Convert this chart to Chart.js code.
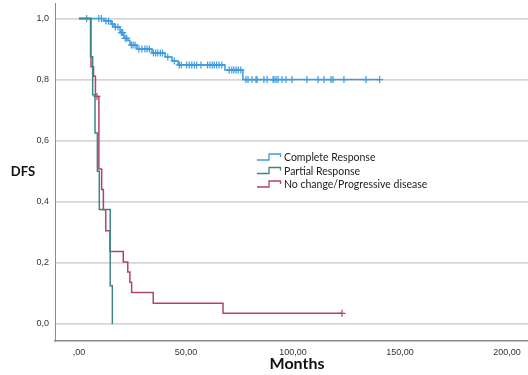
<!DOCTYPE html>
<html>
<head>
<meta charset="utf-8">
<script src="https://cdn.jsdelivr.net/npm/chart.js@4.4.1/dist/chart.umd.min.js"></script>
<style>
  html, body { margin: 0; padding: 0; background: #fff; }
  #wrap { width: 528px; height: 375px; }
</style>
</head>
<body>
<div id="wrap"><canvas id="kmChart" width="528" height="375"></canvas></div>
<script>
// Kaplan-Meier steps: event month -> DFS right after it
const completeTimes = [0, 11.7, 15.0, 16.4, 19.2, 21.0, 22.9, 23.8, 27.1, 34.1, 40.2, 43.5, 46.3, 68.2, 76.6, 140.5];
const completeSurv = [1, 0.992, 0.982, 0.972, 0.954, 0.935, 0.928, 0.913, 0.900, 0.887, 0.874, 0.861, 0.848, 0.831, 0.800, 0.800];
const completeCensored = [
  3.6, 9.3, 10.5, 12.6, 13.8, 15.6, 17.0, 18.2, 19.8, 20.4, 21.6, 22.3,
  24.5, 25.3, 26.2, 28.0, 29.4, 30.8, 31.8, 32.9, 34.8, 35.8, 36.8, 38.0, 39.0,
  41.5, 44.5, 46.9, 47.8, 50.3, 51.5, 52.7, 53.9, 55.0, 57.0, 60.1, 61.2, 62.3,
  63.2, 64.3, 65.4, 66.7, 70.2, 71.4, 72.4, 73.4, 74.4, 75.6,
  78.0, 79.0, 80.8, 82.7, 83.2, 86.4, 87.9, 90.7, 91.1, 92.1, 93.0, 94.9,
  96.7, 99.5, 106.5, 111.7, 114.5, 117.8, 118.7, 123.8, 134.1, 140.5
];

const partialTimes = [0, 5.4, 6.4, 7.5, 8.6, 9.5, 14.6, 15.6];
const partialSurv = [1, 0.875, 0.75, 0.625, 0.5, 0.375, 0.125, 0];
const partialCensored = [];

const progTimes = [0, 5.6, 6.8, 7.7, 9.3, 10.6, 11.4, 12.5, 14.5, 20.7, 22.8, 23.8, 24.6, 34.7, 67.3, 122.9];
const progSurv = [1, 0.842, 0.811, 0.745, 0.507, 0.44, 0.374, 0.305, 0.237, 0.203, 0.17, 0.137, 0.103, 0.068, 0.035, 0.035];
const progCensored = [8.4, 122.9];

const groupNames = ["Complete Response", "Partial Response", "No change/Progressive disease"];
const groupColors = ["#3d9be0", "#3f8585", "#b2426f"];

const xTicks = [0, 50, 100, 150, 200];
const yTicks = [0, 0.2, 0.4, 0.6, 0.8, 1.0];

function survivalAt(times, surv, t) {
  let s = surv[0];
  for (let i = 0; i < times.length; i++) {
    if (times[i] <= t) s = surv[i];
  }
  return s;
}

function stepDataset(times, surv, color) {
  return {
    data: times.map((t, i) => ({ x: t, y: surv[i] })),
    showLine: true,
    stepped: true,
    borderColor: color,
    borderWidth: 1.5,
    pointRadius: 0,
    fill: false,
  };
}

function censorDataset(censored, times, surv, color) {
  return {
    data: censored.map((t) => ({ x: t, y: survivalAt(times, surv, t) })),
    showLine: false,
    pointStyle: "cross",
    pointRadius: 3.5,
    borderColor: color,
    borderWidth: 1.2,
  };
}

// legend with small step icons + axis titles, drawn after the chart
const decorPlugin = {
  id: "decor",
  afterDraw(chart) {
    const ctx = chart.ctx;
    ctx.save();
    ctx.font = "10.5px Lato";
    ctx.textBaseline = "middle";
    groupNames.forEach((name, i) => {
      const y = 158 + i * 13.5;
      ctx.strokeStyle = groupColors[i];
      ctx.lineWidth = 1.3;
      ctx.beginPath();
      ctx.moveTo(257, y + 2);
      ctx.lineTo(269, y + 2);
      ctx.lineTo(269, y - 4);
      ctx.lineTo(280.5, y - 4);
      ctx.lineTo(280.5, y - 1);
      ctx.stroke();
      ctx.fillStyle = "#222";
      ctx.fillText(name, 284, y);
    });

    ctx.fillStyle = "#111";
    ctx.textAlign = "center";
    ctx.font = "bold 13px Lato";
    ctx.fillText("DFS", 23, 172);
    ctx.font = "bold 16px Lato";
    ctx.fillText("Months", 297, 364);
    ctx.restore();
  },
};

new Chart(document.getElementById("kmChart"), {
  type: "scatter",
  data: {
    datasets: [
      stepDataset(partialTimes, partialSurv, groupColors[1]),
      stepDataset(progTimes, progSurv, groupColors[2]),
      stepDataset(completeTimes, completeSurv, groupColors[0]),
      censorDataset(partialCensored, partialTimes, partialSurv, groupColors[1]),
      censorDataset(progCensored, progTimes, progSurv, groupColors[2]),
      censorDataset(completeCensored, completeTimes, completeSurv, groupColors[0]),
    ],
  },
  options: {
    responsive: false,
    animation: false,
    layout: { autoPadding: false, padding: { top: 3, right: 0, left: 0, bottom: 0 } },
    plugins: {
      legend: { display: false },
      tooltip: { enabled: false },
    },
    scales: {
      x: {
        type: "linear",
        min: -11.2,
        max: 209.8,
        afterBuildTicks: (scale) => {
          scale.ticks = xTicks.map((v) => ({ value: v }));
        },
        afterFit: (scale) => {
          scale.height = 34;
          scale.paddingLeft = 0;
          scale.paddingRight = 0;
        },
        grid: { display: false, drawTicks: false },
        border: { display: true, color: "#8c8c8c", width: 1.5 },
        ticks: {
          padding: 6,
          color: "#333",
          font: { family: "Liberation Sans", size: 9 },
          maxRotation: 0,
          callback: (v) => (v === 0 ? ",00" : v.toFixed(2).replace(".", ",")),
        },
      },
      y: {
        min: -0.0556,
        max: 1.0507,
        afterBuildTicks: (scale) => {
          scale.ticks = yTicks.map((v) => ({ value: v }));
        },
        afterFit: (scale) => {
          scale.width = 55;
          scale.paddingTop = 0;
          scale.paddingBottom = 0;
        },
        grid: { color: "#d6d6d6", lineWidth: 1.8, drawTicks: false },
        border: { display: true, color: "#8c8c8c", width: 1 },
        ticks: {
          padding: 6,
          color: "#333",
          font: { family: "Liberation Sans", size: 9 },
          callback: (v) => v.toFixed(1).replace(".", ","),
        },
      },
    },
  },
  plugins: [decorPlugin],
});
</script>
</body>
</html>
